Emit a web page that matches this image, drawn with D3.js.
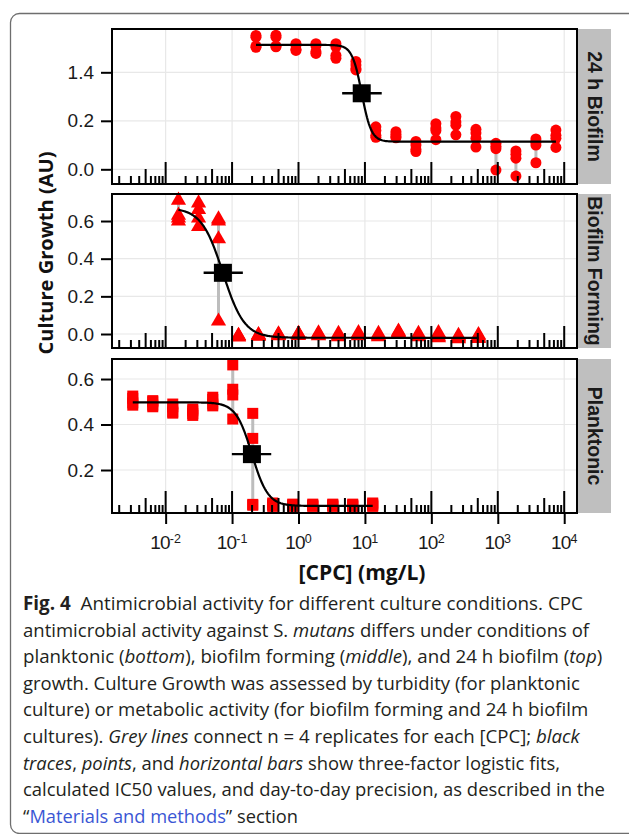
<!DOCTYPE html>
<html><head><meta charset="utf-8">
<script src="https://cdn.jsdelivr.net/npm/d3@7/dist/d3.min.js"></script>
<style>body{margin:0;background:#fff;} svg{display:block;}</style>
</head><body>
<svg id="fig" width="629" height="834"></svg>
<script>
// ---------------- DATA ----------------
const panelNames = ["24 h Biofilm", "Biofilm Forming", "Planktonic"];

const conc24h = [0.229, 0.458, 0.916, 1.83, 3.66, 7.32, 14.6, 29.3, 58.6, 117, 234, 469, 938, 1875, 3750, 7500];
const growth24h = [
  [0.552, 0.545, 0.508, 0.503],
  [0.553, 0.545, 0.508, 0.505],
  [0.518, 0.512, 0.495, 0.490],
  [0.518, 0.510, 0.485, 0.478],
  [0.518, 0.505, 0.470, 0.458],
  [0.445, 0.430, 0.415, 0.410],
  [0.175, 0.160, 0.140, 0.132],
  [0.155, 0.145, 0.135, 0.130],
  [0.115, 0.100, 0.082, 0.073],
  [0.188, 0.170, 0.160, 0.122],
  [0.218, 0.195, 0.182, 0.142],
  [0.165, 0.150, 0.128, 0.092],
  [0.107, 0.095, 0.085, -0.003],
  [0.076, 0.062, 0.046, -0.028],
  [0.125, 0.112, 0.100, 0.027],
  [0.162, 0.140, 0.128, 0.090]
];

const concForming = [0.0156, 0.0313, 0.0625, 0.125, 0.25, 0.5, 1, 2, 4, 8, 16, 32, 64, 128, 256, 512];
const growthForming = [
  [0.710, 0.630, 0.615, 0.600],
  [0.695, 0.660, 0.615, 0.570],
  [0.610, 0.600, 0.505, 0.068],
  [-0.008, -0.010, -0.013, -0.016],
  [-0.004, -0.006, -0.010, -0.012],
  [0.000, -0.003, -0.008, -0.010],
  [0.002, 0.000, -0.004, -0.008],
  [0.005, 0.000, -0.006, -0.010],
  [0.002, -0.004, -0.010, -0.015],
  [0.006, 0.000, -0.006, -0.010],
  [0.002, -0.004, -0.010, -0.015],
  [0.014, 0.010, 0.006, 0.002],
  [0.002, -0.004, -0.010, -0.015],
  [0.006, -0.002, -0.012, -0.020],
  [-0.008, -0.014, -0.020, -0.026],
  [-0.004, -0.010, -0.018, -0.025]
];

const concPlanktonic = [0.0032, 0.0064, 0.0128, 0.0256, 0.0512, 0.1024, 0.2048, 0.4096, 0.8192, 1.64, 3.28, 6.55, 13.1];
const growthPlanktonic = [
  [0.525, 0.515, 0.495, 0.485],
  [0.505, 0.500, 0.485, 0.478],
  [0.490, 0.478, 0.455, 0.450],
  [0.468, 0.460, 0.448, 0.440],
  [0.520, 0.510, 0.490, 0.482],
  [0.662, 0.555, 0.530, 0.424],
  [0.449, 0.339, 0.049, 0.045],
  [0.055, 0.050, 0.045, 0.040],
  [0.050, 0.047, 0.043, 0.040],
  [0.050, 0.046, 0.043, 0.040],
  [0.050, 0.047, 0.043, 0.040],
  [0.050, 0.046, 0.043, 0.040],
  [0.055, 0.050, 0.045, 0.040]
];

// three-factor logistic fits (top, bottom, IC50, hill) and day-to-day precision of IC50
const fitTop    = [0.513, 0.670, 0.4975];
const fitBottom = [0.114, -0.020, 0.042];
const fitIC50   = [8.95, 0.0728, 0.199];
const fitHill   = [6.0, 2.7, 3.6];
const ic50Low   = [4.54, 0.0373, 0.0993];
const ic50High  = [17.9, 0.1453, 0.3886];

// tick values / labels
const yTicks24h = [0, 0.2, 0.4];
const yTickLabels24h = ["0.0", "0.2", "1.4"];
const yTicksForming = [0, 0.2, 0.4, 0.6];
const yTickLabelsForming = ["0.0", "0.2", "0.4", "0.6"];
const yTicksPlanktonic = [0.2, 0.4, 0.6];
const yTickLabelsPlanktonic = ["0.2", "0.4", "0.6"];
const xDecades = [0.01, 0.1, 1, 10, 100, 1000, 10000];
const xDecadeExponents = ["-2", "-1", "0", "1", "2", "3", "4"];

const yTitle = "Culture Growth (AU)";
const xTitle = "[CPC] (mg/L)";

// ---------------- LAYOUT ----------------
const svg = d3.select("#fig");
const plotL = 112, plotR = 577, stripR = 611;
const panelTop = [29, 194, 359], panelBot = [184, 348, 513];
const yDomains = [[-0.0606, 0.5786], [-0.0743, 0.7435], [0.011, 0.688]];
const RED = "#ff0000";

const panels = [
  {name: panelNames[0], conc: conc24h, vals: growth24h, ticks: yTicks24h, labels: yTickLabels24h, shape: "circle"},
  {name: panelNames[1], conc: concForming, vals: growthForming, ticks: yTicksForming, labels: yTickLabelsForming, shape: "triangle"},
  {name: panelNames[2], conc: concPlanktonic, vals: growthPlanktonic, ticks: yTicksPlanktonic, labels: yTickLabelsPlanktonic, shape: "square"}
];

// figure frame
svg.append("rect").attr("x", 10.5).attr("y", 13.5).attr("width", 660).attr("height", 820)
  .attr("rx", 9).attr("fill", "none").attr("stroke", "#6e6e6e").attr("stroke-width", 1.3);

const x = d3.scaleLog().domain([Math.pow(10, -2.8075), Math.pow(10, 4.1925)]).range([plotL, plotR]);
const [xmin, xmax] = x.domain();

panels.forEach((p, i) => {
  const y = d3.scaleLinear().domain(yDomains[i]).range([panelBot[i], panelTop[i]]);
  const g = svg.append("g");

  g.append("rect").attr("x", plotL).attr("y", panelTop[i]).attr("width", plotR - plotL)
    .attr("height", panelBot[i] - panelTop[i]).attr("fill", "#fff");

  // gridlines
  const grid = g.append("g").attr("stroke", "#e8e8e8").attr("stroke-width", 1.2);
  xDecades.forEach(d => {
    grid.append("line").attr("x1", x(d)).attr("x2", x(d)).attr("y1", panelTop[i]).attr("y2", panelBot[i]);
  });
  p.ticks.forEach(t => {
    grid.append("line").attr("x1", plotL).attr("x2", plotR).attr("y1", y(t)).attr("y2", y(t));
  });

  // grey replicate connectors
  g.append("g").selectAll("line").data(p.conc).join("line")
    .attr("x1", d => x(d)).attr("x2", d => x(d))
    .attr("y1", (d, k) => y(d3.max(p.vals[k]))).attr("y2", (d, k) => y(d3.min(p.vals[k])))
    .attr("stroke", "#bdbdbd").attr("stroke-width", 3);

  // points
  const pts = [];
  p.conc.forEach((c, k) => p.vals[k].forEach(v => pts.push({c, v})));
  const pg = g.append("g").attr("fill", RED);
  if (p.shape === "circle") {
    pg.selectAll("circle").data(pts).join("circle")
      .attr("cx", d => x(d.c)).attr("cy", d => y(d.v)).attr("r", 5.5);
  } else if (p.shape === "triangle") {
    const tri = d3.symbol(d3.symbolTriangle, 100)();
    pg.selectAll("path").data(pts).join("path")
      .attr("d", tri).attr("transform", d => `translate(${x(d.c)},${y(d.v)})`);
  } else {
    const s = 11;
    pg.selectAll("rect").data(pts).join("rect")
      .attr("x", d => x(d.c) - s / 2).attr("y", d => y(d.v) - s / 2).attr("width", s).attr("height", s);
  }

  // fitted logistic curve
  const logistic = c => fitBottom[i] + (fitTop[i] - fitBottom[i]) / (1 + Math.pow(c / fitIC50[i], fitHill[i]));
  const c0 = Math.log10(d3.min(p.conc)), c1 = Math.log10(d3.max(p.conc));
  const curve = d3.range(0, 301).map(j => Math.pow(10, c0 + (c1 - c0) * j / 300));
  g.append("path").datum(curve)
    .attr("d", d3.line().x(c => x(c)).y(c => y(logistic(c))))
    .attr("fill", "none").attr("stroke", "#000").attr("stroke-width", 2.2);

  // IC50 point & bar
  const mid = (fitTop[i] + fitBottom[i]) / 2;
  g.append("line").attr("x1", x(ic50Low[i])).attr("x2", x(ic50High[i]))
    .attr("y1", y(mid)).attr("y2", y(mid)).attr("stroke", "#000").attr("stroke-width", 2.4);
  g.append("rect").attr("x", x(fitIC50[i]) - 9).attr("y", y(mid) - 9)
    .attr("width", 18).attr("height", 18).attr("fill", "#000");

  // log ticks inside the panel
  const lt = g.append("g").attr("stroke", "#000").attr("stroke-width", 2);
  for (let e = -3; e <= 4; e++) {
    for (let m = 1; m <= 9; m++) {
      const v = m * Math.pow(10, e);
      if (v <= xmin || v >= xmax) continue;
      const xx = x(v);
      if (xx < plotL + 2 || xx > plotR - 2) continue;
      const len = m === 1 ? 22 : (m === 5 ? 15 : 8);
      lt.append("line").attr("x1", xx).attr("x2", xx).attr("y1", panelBot[i]).attr("y2", panelBot[i] - len);
    }
  }

  // panel border
  g.append("rect").attr("x", plotL).attr("y", panelTop[i]).attr("width", plotR - plotL)
    .attr("height", panelBot[i] - panelTop[i]).attr("fill", "none").attr("stroke", "#000").attr("stroke-width", 2);

  // strip
  g.append("rect").attr("x", plotR + 1).attr("y", panelTop[i]).attr("width", stripR - plotR - 1)
    .attr("height", panelBot[i] - panelTop[i]).attr("fill", "#bfbfbf");
  const sy = (panelTop[i] + panelBot[i]) / 2;
  g.append("text").text(p.name)
    .attr("transform", `translate(${(plotR + stripR) / 2 + 0.5},${sy}) rotate(90)`)
    .attr("text-anchor", "middle").attr("dominant-baseline", "central")
    .attr("font-family", "Liberation Sans, Arial, sans-serif").attr("font-weight", "bold")
    .attr("font-size", 19.5).attr("fill", "#1a1a1a");

  // y axis
  const ya = d3.axisLeft(y).tickValues(p.ticks).tickFormat((d, k) => p.labels[k])
    .tickSize(10).tickPadding(7);
  const yg = svg.append("g").attr("transform", `translate(${plotL - 1},0)`).call(ya);
  yg.select(".domain").remove();
  yg.selectAll(".tick line").attr("stroke-width", 2);
  yg.selectAll(".tick text").attr("font-family", "Liberation Sans, Arial, sans-serif")
    .attr("font-size", 19).attr("fill", "#1a1a1a");

  // x axis on bottom panel
  if (i === 2) {
    const xa = d3.axisBottom(x).tickValues(xDecades).tickFormat("").tickSize(10);
    const xg = svg.append("g").attr("transform", `translate(0,${panelBot[i] + 1})`).call(xa);
    xg.select(".domain").remove();
    xg.selectAll(".tick line").attr("stroke-width", 2);
    xDecades.forEach((d, k) => {
      const t = svg.append("text").attr("x", x(d)).attr("y", 549)
        .attr("text-anchor", "middle").attr("font-family", "Liberation Sans, Arial, sans-serif")
        .attr("fill", "#1a1a1a");
      t.append("tspan").attr("font-size", 19).attr("letter-spacing", -0.8).text("10");
      t.append("tspan").attr("font-size", 12.5).attr("dy", -6).text(xDecadeExponents[k]);
    });
  }
});

// axis titles
function fitFont(sel, target) {
  const fs = +sel.attr("font-size");
  const w = sel.node().getComputedTextLength();
  sel.attr("font-size", fs * target / w);
}
const yt = svg.append("text").text(yTitle)
  .attr("transform", "translate(53,253) rotate(-90)").attr("text-anchor", "middle")
  .attr("font-family", "Open Sans, sans-serif").attr("font-weight", "bold").attr("font-size", 20)
  .attr("fill", "#111");
fitFont(yt, 203);
const xt = svg.append("text").text(xTitle)
  .attr("x", 362).attr("y", 580).attr("text-anchor", "middle")
  .attr("font-family", "Open Sans, sans-serif").attr("font-weight", "bold").attr("font-size", 20)
  .attr("fill", "#111");
fitFont(xt, 127);

// ---------------- CAPTION ----------------
const captionLines = [
  [["b", "Fig. 4"], ["n", "  Antimicrobial activity for different culture conditions. CPC"]],
  [["n", "antimicrobial activity against S. "], ["i", "mutans"], ["n", " differs under conditions of"]],
  [["n", "planktonic ("], ["i", "bottom"], ["n", "), biofilm forming ("], ["i", "middle"], ["n", "), and 24 h biofilm ("], ["i", "top"], ["n", ")"]],
  [["n", "growth. Culture Growth was assessed by turbidity (for planktonic"]],
  [["n", "culture) or metabolic activity (for biofilm forming and 24 h biofilm"]],
  [["n", "cultures). "], ["i", "Grey lines"], ["n", " connect n = 4 replicates for each [CPC]; "], ["i", "black"]],
  [["i", "traces"], ["n", ", "], ["i", "points"], ["n", ", and "], ["i", "horizontal bars"], ["n", " show three-factor logistic fits,"]],
  [["n", "calculated IC50 values, and day-to-day precision, as described in the"]],
  [["n", "\u201C"], ["l", "Materials and methods"], ["n", "\u201D section"]]
];
const captionRight = [583, 589, 602, 580, 588, 580, 560, 605, 298];
const capLeft = 23, capBase0 = 610, capStep = 26.6;
captionLines.forEach((line, li) => {
  const t = svg.append("text").attr("x", 0).attr("y", 0)
    .attr("font-family", "Open Sans, sans-serif").attr("font-size", 18.7).attr("fill", "#231f20")
    .attr("xml:space", "preserve").style("white-space", "pre");
  line.forEach(([kind, s]) => {
    const ts = t.append("tspan").text(s);
    if (kind === "b") ts.attr("font-weight", "bold");
    if (kind === "i") ts.attr("font-style", "italic");
    if (kind === "l") ts.attr("fill", "#3a56d4");
  });
  const w = t.node().getComputedTextLength();
  const sx = (captionRight[li] - capLeft) / w;
  t.attr("transform", `translate(${capLeft},${capBase0 + li * capStep}) scale(${sx},1)`);
});
</script>
</body></html>
